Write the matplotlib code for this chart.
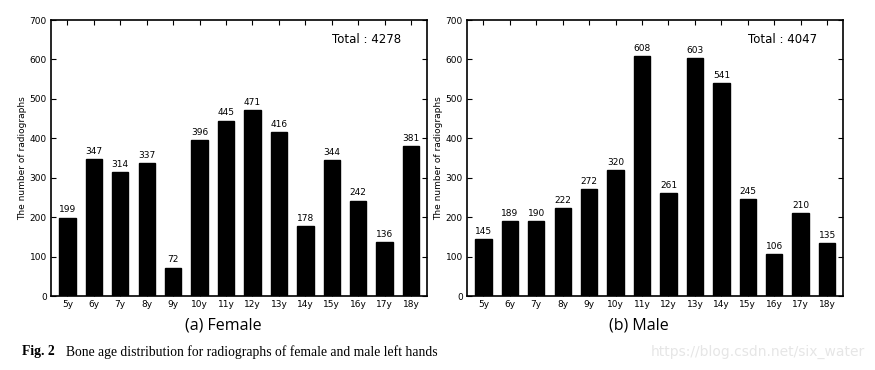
import numpy as np
import matplotlib
matplotlib.use("Agg")
import matplotlib.pyplot as plt

# Bone age categories and counts
ages = ["5y", "6y", "7y", "8y", "9y", "10y", "11y", "12y", "13y", "14y", "15y", "16y", "17y", "18y"]
female = [199, 347, 314, 337, 72, 396, 445, 471, 416, 178, 344, 242, 136, 381]
male = [145, 189, 190, 222, 272, 320, 608, 261, 603, 541, 245, 106, 210, 135]
female_total = 4278
male_total = 4047

fig = plt.figure(figsize=(8.75, 3.7), dpi=100)

def draw_panel(rect, counts, total, subtitle):
    ax = fig.add_axes(rect)
    x = np.arange(len(ages))
    bars = ax.bar(x, counts, width=0.62, color="black", edgecolor="black")
    for b, v in zip(bars, counts):
        ax.text(b.get_x() + b.get_width() / 2, v + 8, str(v),
                ha="center", va="bottom", fontsize=6.5)
    ax.set_xlim(-0.62, 13.6)
    ax.set_ylim(0, 700)
    ax.set_yticks(range(0, 701, 100))
    ax.set_xticks(x)
    ax.set_xticklabels(ages)
    ax.tick_params(direction="in", top=True, right=True, labelsize=6.5,
                   length=3.5, width=0.8, pad=3)
    for s in ax.spines.values():
        s.set_linewidth(1.2)
    ax.set_ylabel("The number of radiographs", fontsize=6.5, labelpad=2)
    ax.text(0.93, 0.93, "Total : %d" % total, transform=ax.transAxes,
            ha="right", va="center", fontsize=8.5)
    ax.text(0.458, -0.108, subtitle, transform=ax.transAxes,
            ha="center", va="center", fontsize=11.5, family="Open Sans")
    return ax

W, H = 875, 370
draw_panel([51 / W, 1 - 296 / H, 376 / W, 276 / H], female, female_total, "(a) Female")
draw_panel([467 / W, 1 - 296 / H, 376 / W, 276 / H], male, male_total, "(b) Male")

fig.text(22 / W, 1 - 352 / H, "Fig. 2", fontsize=9.8, fontweight="bold",
         family="Liberation Serif", va="center")
fig.text(66 / W, 1 - 352 / H, "Bone age distribution for radiographs of female and male left hands",
         fontsize=9.8, family="Liberation Serif", va="center")
fig.text(865 / W, 1 - 352 / H, "https://blog.csdn.net/six_water", fontsize=10,
         color="#e6e6e6", ha="right", va="center")

fig.savefig("out.png", dpi=100)
